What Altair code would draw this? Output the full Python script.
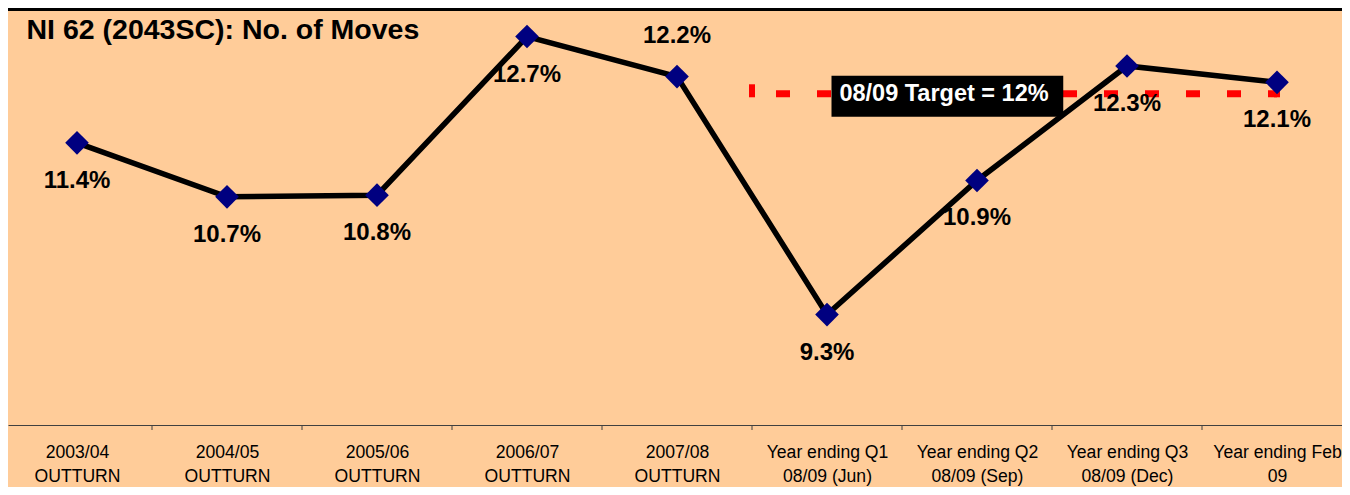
import json
import altair as alt
import pandas as pd

# ---------------- data ----------------
categories = [
    "2003/04\nOUTTURN",
    "2004/05\nOUTTURN",
    "2005/06\nOUTTURN",
    "2006/07\nOUTTURN",
    "2007/08\nOUTTURN",
    "Year ending Q1\n08/09 (Jun)",
    "Year ending Q2\n08/09 (Sep)",
    "Year ending Q3\n08/09 (Dec)",
    "Year ending Feb\n09",
]
moves_pct = [11.40, 10.74, 10.76, 12.70, 12.21, 9.30, 10.94, 12.34, 12.14]
labels_above = ["2007/08\nOUTTURN"]          # the one data label drawn above its point
target_pct = 12.0
target_span = [4.5, 8.0]                      # category positions the target line covers
target_text = "08/09 Target = 12%"
target_text_at = 5.78                         # category position of the target call-out
title_text = "NI 62 (2043SC): No. of Moves"

# ---------------- styling ----------------
FONT = "Liberation Sans"
BG = "#FFCC99"
W, H = 1334, 413

df = pd.DataFrame({
    "idx": list(range(len(categories))),
    "category": categories,
    "value": moves_pct,
})
df["label"] = [f"{v:.1f}%" for v in moves_pct]
df["above"] = df["category"].isin(labels_above)

bounds_df = pd.DataFrame({"b": [i + 0.5 for i in range(len(categories) - 1)]})
target_df = pd.DataFrame({"x": target_span, "y": [target_pct, target_pct]})
box_df = pd.DataFrame({
    "x": [target_text_at - 0.75], "x2": [target_text_at + 0.795],
    "y": [target_pct + 0.22], "y2": [target_pct - 0.28],
})
box_text_df = pd.DataFrame({"x": [target_text_at], "y": [target_pct], "t": [target_text]})
title_df = pd.DataFrame({"t": [title_text]})

xs = alt.Scale(domain=[-0.46, -0.46 + W / 150.0], nice=False, zero=False)
ys = alt.Scale(domain=[7.95, 13.0], nice=False, zero=False)

label_lines = [c.split("\n") for c in categories]
label_expr = f"{json.dumps(label_lines)}[datum.value]"

x_axis = alt.Axis(
    values=list(range(len(categories))),
    labelExpr=label_expr,
    title=None,
    grid=False,
    domainColor="#404040",
    domainWidth=1,
    ticks=False,
    tickSize=0,
    labelPadding=18,
    labelFont=FONT,
    labelFontSize=17.6,
    labelLineHeight=24,
    labelColor="black",
    labelAngle=0,
    labelAlign="center",
    labelBaseline="top",
    labelOverlap=False,
    labelFlush=False,
)

base = alt.Chart(df)

line = base.mark_line(color="black", strokeWidth=5.5).encode(
    x=alt.X("idx:Q", scale=xs, axis=x_axis),
    y=alt.Y("value:Q", scale=ys, axis=None),
)

axis_ticks = alt.Chart(bounds_df).mark_rule(color="#404040", strokeWidth=1).encode(
    x=alt.X("b:Q", scale=xs), y=alt.value(H), y2=alt.value(H + 5)
)

target_line = alt.Chart(target_df).mark_line(
    color="#FF0000", strokeWidth=7, strokeDash=[14, 27], strokeDashOffset=17, strokeCap="butt"
).encode(
    x=alt.X("x:Q", scale=xs),
    y=alt.Y("y:Q", scale=ys),
)

target_ends = alt.Chart(target_df).mark_tick(
    color="#FF0000", orient="vertical", thickness=6, size=13, yOffset=-3, opacity=1
).encode(x=alt.X("x:Q", scale=xs), y=alt.Y("y:Q", scale=ys))

points = base.mark_point(
    shape="diamond", filled=True, size=560, color="#000080", opacity=1
).encode(x=alt.X("idx:Q", scale=xs), y=alt.Y("value:Q", scale=ys))

text_style = dict(font=FONT, fontSize=24, fontWeight="bold", color="black", baseline="middle", align="center")

labels_below = base.transform_filter("!datum.above").mark_text(dy=38, **text_style).encode(
    x=alt.X("idx:Q", scale=xs), y=alt.Y("value:Q", scale=ys), text="label:N"
)
labels_up = base.transform_filter("datum.above").mark_text(dy=-41, **text_style).encode(
    x=alt.X("idx:Q", scale=xs), y=alt.Y("value:Q", scale=ys), text="label:N"
)

box = alt.Chart(box_df).mark_rect(color="black", opacity=1).encode(
    x=alt.X("x:Q", scale=xs), x2="x2", y=alt.Y("y:Q", scale=ys), y2="y2"
)
box_text = alt.Chart(box_text_df).mark_text(
    font=FONT, fontSize=23.5, fontWeight="bold", color="white", baseline="middle", align="center"
).encode(x=alt.X("x:Q", scale=xs), y=alt.Y("y:Q", scale=ys), text="t:N")

title_mark = alt.Chart(title_df).mark_text(
    font=FONT, fontSize=28.5, fontWeight="bold", color="black", align="left", baseline="alphabetic"
).encode(x=alt.value(18.5), y=alt.value(27.3), text="t:N")

top_border = alt.Chart(df).mark_rule(color="black", strokeWidth=3).encode(
    x=alt.value(0), x2=alt.value(W), y=alt.value(-2.5)
)

chart = alt.layer(
    line, axis_ticks, target_line, target_ends, points, labels_below, labels_up,
    box, box_text, title_mark, top_border
).properties(
    width=W,
    height=H,
    padding={"left": 0, "top": 4, "right": 0, "bottom": 62},
    autosize=alt.AutoSizeParams(type="none"),
    background=BG,
).configure_view(stroke=None)

chart.save("out.html", embed_options={"renderer": "svg", "actions": False})
